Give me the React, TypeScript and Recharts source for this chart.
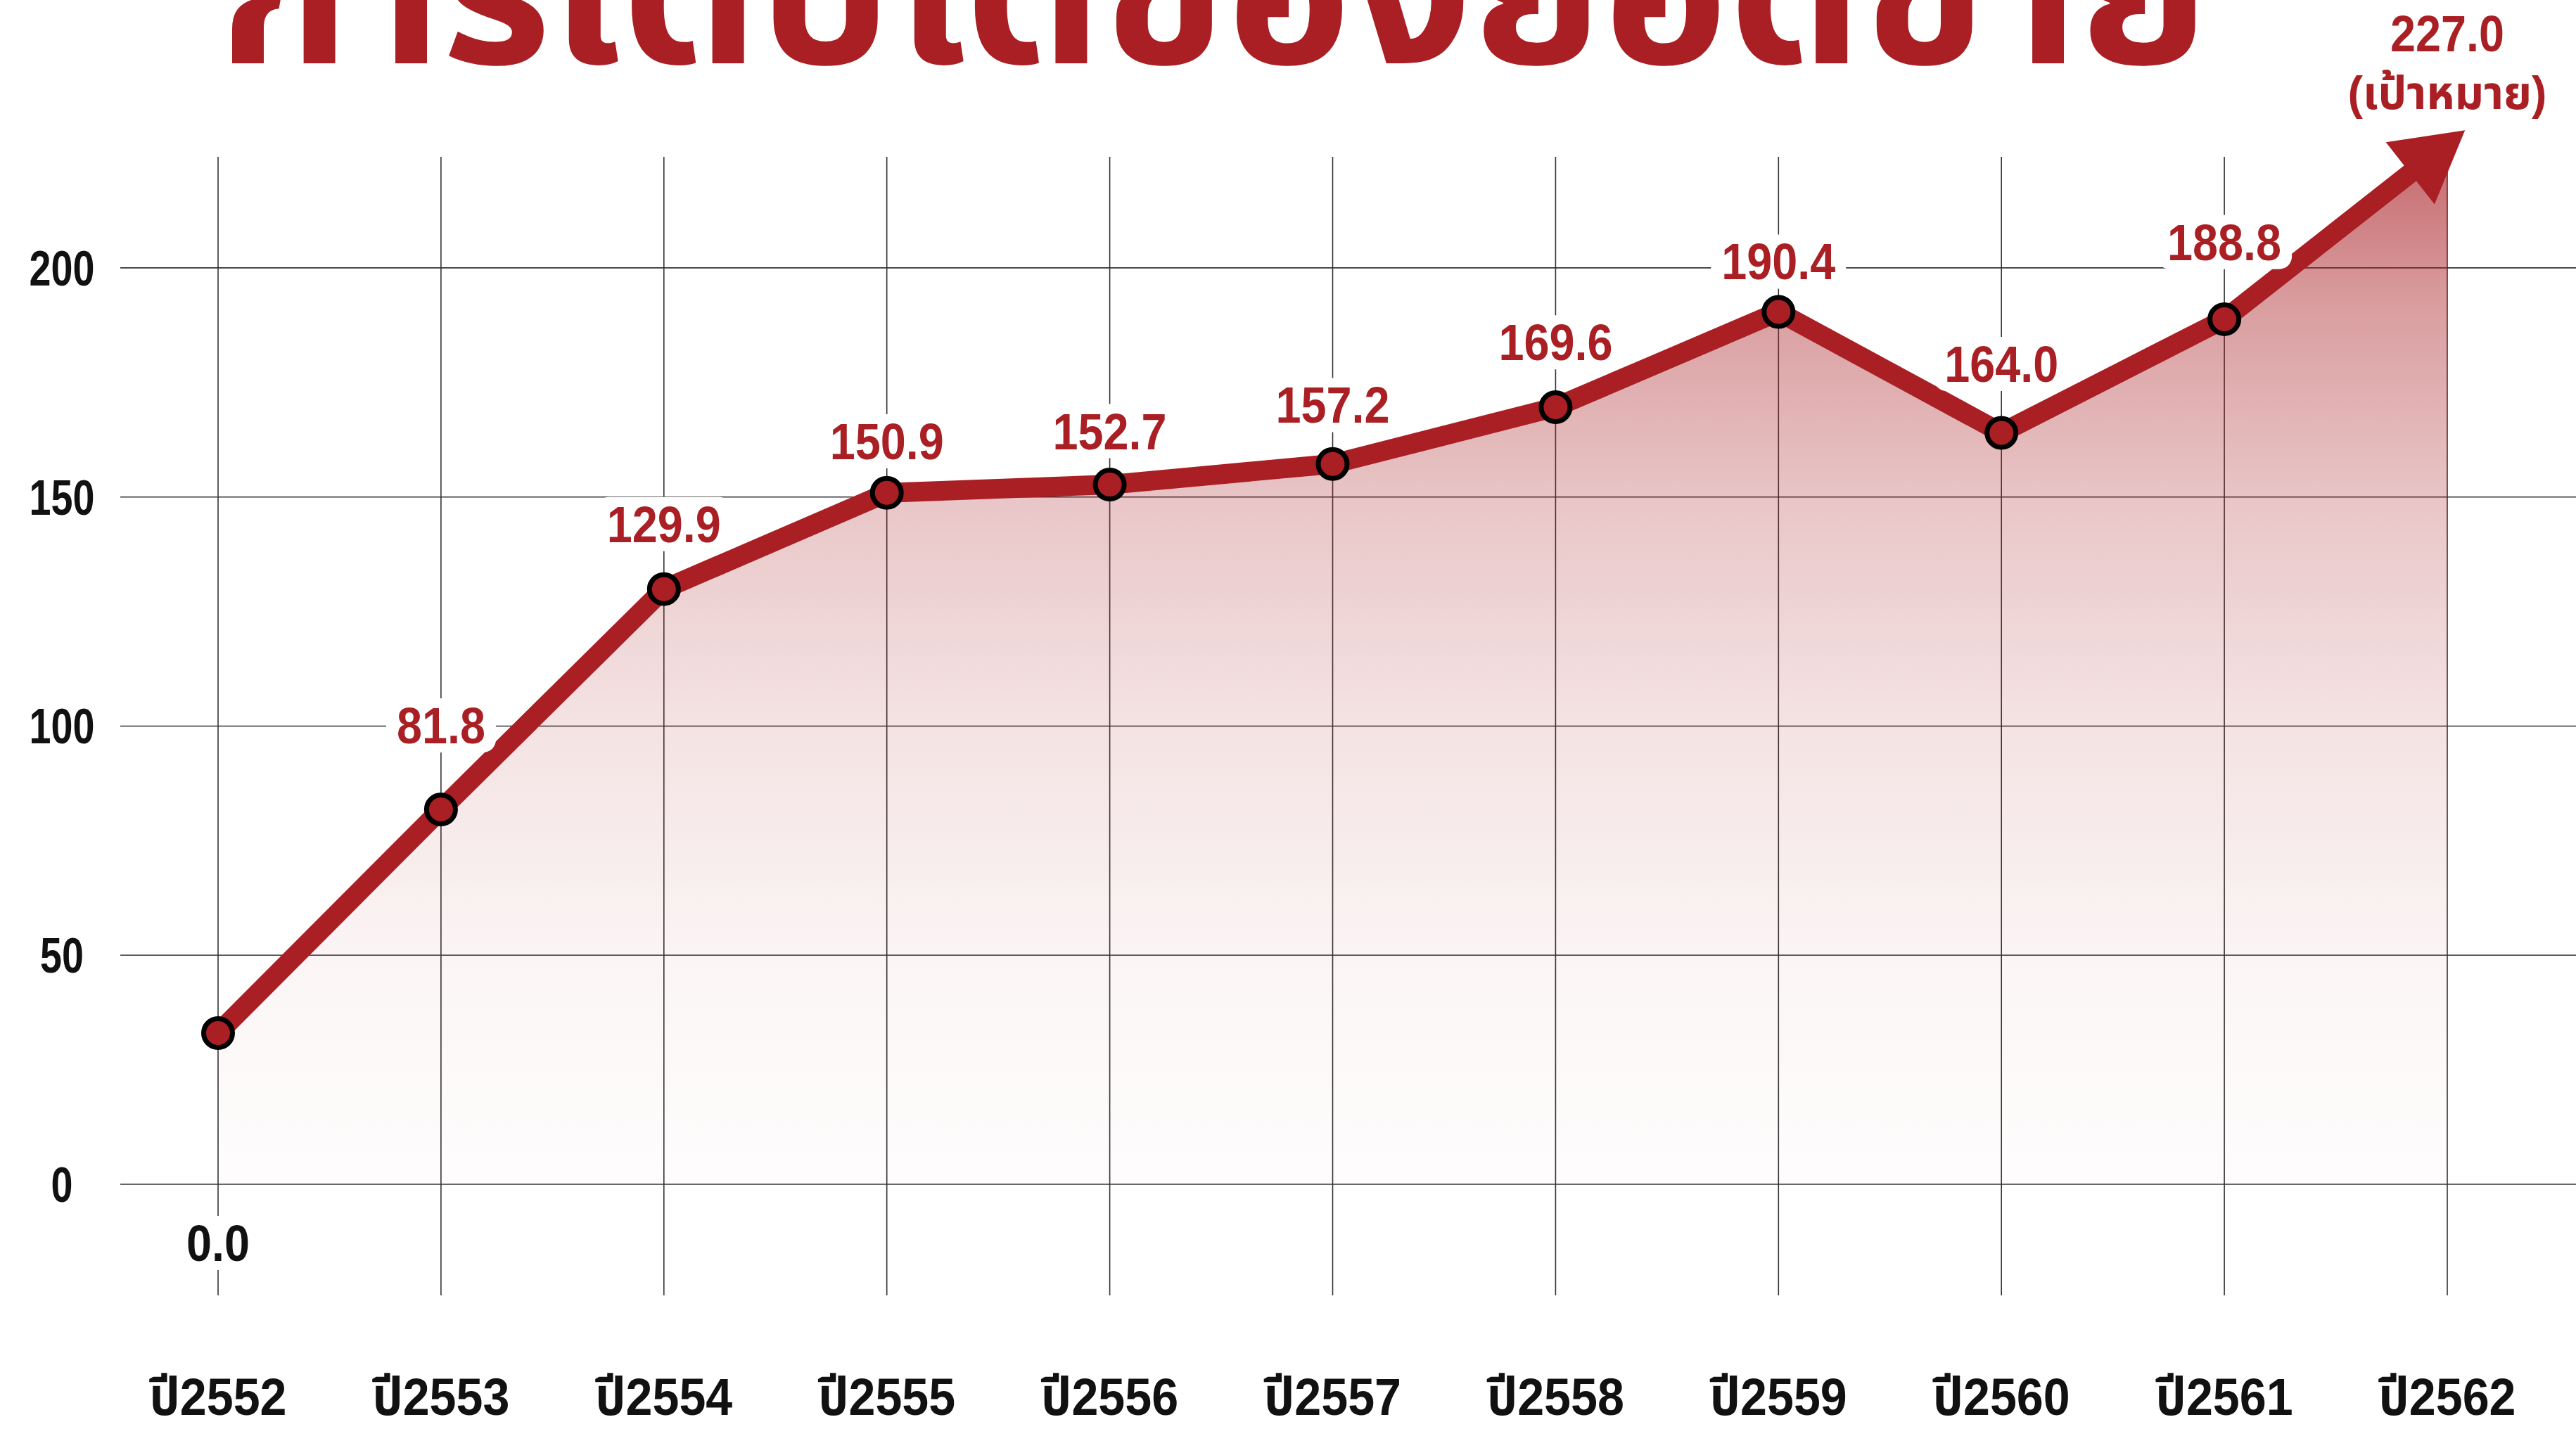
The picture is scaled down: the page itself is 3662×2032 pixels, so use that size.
import React from 'react';
import { ComposedChart, Line, Area, XAxis, YAxis, CartesianGrid, LabelList } from 'recharts';

const years = ['ปี2552', 'ปี2553', 'ปี2554', 'ปี2555', 'ปี2556', 'ปี2557', 'ปี2558', 'ปี2559', 'ปี2560', 'ปี2561', 'ปี2562'];
// first point sits above zero in the original even though it is labelled 0.0
const sales = [33, 81.8, 129.9, 150.9, 152.7, 157.2, 169.6, 190.4, 164.0, 188.8, 227.0];
const salesLabels = ['0.0', '81.8', '129.9', '150.9', '152.7', '157.2', '169.6', '190.4', '164.0', '188.8', '227.0'];
const yTicks = [0, 50, 100, 150, 200];
const title = 'การเติบโตของยอดขาย';
const targetNote = '(เป้าหมาย)';

const W = 3662;
const H = 2032;
const RED = '#a91f24';
const FONT = "'Liberation Sans', 'Noto Sans Thai', 'Noto Sans', sans-serif";
const GRID_TOP = 223;
const PLOT_TOP = 205;
const PLOT_BOTTOM = 1842;
const Y_AXIS_W = 171;

const data = years.map((year, i) => ({ year, sales: sales[i], label: salesLabels[i] }));

// rough width of the condensed digits so the white boxes fit
const textWidth = (s: string) => s.split('').reduce((w, c) => w + (c === '.' ? 18 : 36), 0);

// push a label further up when a neighbouring segment climbs past it
const labelLift = (i: number) => {
  const v = sales[i];
  const prev = i > 0 ? sales[i - 1] - v : 0;
  const next = i < sales.length - 1 ? sales[i + 1] - v : 0;
  return 72 + Math.max(0, prev, next);
};

const YTick = (props: any) => {
  const { x, y, payload } = props;
  const s = String(payload.value);
  return (
    <text x={x - 83} y={y + 25} textAnchor="middle" fontFamily={FONT} fontWeight={700} fontSize={70}
      fill="#111" textLength={s.length * 31} lengthAdjust="spacingAndGlyphs">
      {s}
    </text>
  );
};

const XTick = (props: any) => {
  const { x, y, payload } = props;
  return (
    <text x={x} y={y + 170} textAnchor="middle" fontFamily={FONT} fontWeight={700} fontSize={75}
      fill="#111" textLength={195} lengthAdjust="spacingAndGlyphs">
      {payload.value}
    </text>
  );
};

const ValueLabel = (props: any) => {
  const vb = props.viewBox ?? {};
  const x = vb.x ?? props.x;
  const y = vb.y ?? props.y;
  const s = String(props.value);
  const index = props.index ?? salesLabels.indexOf(s);
  const w = textWidth(s);
  if (index === sales.length - 1) {
    return (
      <g>
        <text x={x} y={y - 132} textAnchor="middle" fontFamily={FONT} fontWeight={700} fontSize={72}
          fill={RED} textLength={w} lengthAdjust="spacingAndGlyphs">{s}</text>
        <text x={x} y={y - 50} textAnchor="middle" fontFamily={FONT} fontWeight={700} fontSize={66}
          fill={RED} textLength={283} lengthAdjust="spacingAndGlyphs">{targetNote}</text>
      </g>
    );
  }
  const cy = index === 0 ? PLOT_BOTTOM - 75 : y - labelLift(index);
  return (
    <g>
      <rect x={x - w / 2 - 15} y={cy - 38} width={w + 30} height={77} rx={18} fill="#fff" />
      <text x={x} y={cy + 26} textAnchor="middle" fontFamily={FONT} fontWeight={700} fontSize={72}
        fill={index === 0 ? '#111' : RED} textLength={w} lengthAdjust="spacingAndGlyphs">{s}</text>
    </g>
  );
};

const SalesDot = (props: any) => {
  const { cx, cy, index, points } = props;
  if (cx == null || cy == null) return <g key={`dot-${index}`} />;
  if (index === sales.length - 1) {
    const prev = points && points[index - 1];
    const a = prev ? Math.atan2(cy - prev.y, cx - prev.x) : -0.67;
    const ux = Math.cos(a);
    const uy = Math.sin(a);
    const bx = cx - ux * 67;
    const by = cy - uy * 67;
    const pts = [
      [cx + ux * 32, cy + uy * 32],
      [bx - uy * 56, by + ux * 56],
      [bx + uy * 56, by - ux * 56],
    ].map((p) => p.join(',')).join(' ');
    return <polygon key={`dot-${index}`} points={pts} fill={RED} />;
  }
  return <circle key={`dot-${index}`} cx={cx} cy={cy} r={20.5} fill={RED} stroke="#000" strokeWidth={7} />;
};

export default function App() {
  return (
    <div style={{ position: 'absolute', left: 0, top: 0, width: W, height: H, background: '#fff', overflow: 'hidden' }}>
      <ComposedChart width={W} height={H} data={data} margin={{ top: PLOT_TOP, right: 0, bottom: 0, left: 0 }}>
        <defs>
          <linearGradient id="salesFill" x1="0" y1="0" x2="0" y2="1">
            <stop offset="0%" stopColor={RED} stopOpacity={0.68} />
            <stop offset="15%" stopColor={RED} stopOpacity={0.44} />
            <stop offset="35%" stopColor={RED} stopOpacity={0.25} />
            <stop offset="55%" stopColor={RED} stopOpacity={0.13} />
            <stop offset="80%" stopColor={RED} stopOpacity={0.04} />
            <stop offset="100%" stopColor={RED} stopOpacity={0.01} />
          </linearGradient>
        </defs>
        <CartesianGrid stroke="#333" strokeWidth={1.6} y={GRID_TOP} height={PLOT_BOTTOM - GRID_TOP} syncWithTicks />
        <XAxis dataKey="year" scale="point" padding={{ left: 139, right: 183 }} height={H - PLOT_BOTTOM}
          axisLine={false} tickLine={false} tickSize={0} tickMargin={0} tick={<XTick />} interval={0} />
        <YAxis type="number" domain={[-24.25, 'dataMax']} ticks={yTicks} width={Y_AXIS_W}
          axisLine={false} tickLine={false} tickSize={0} tickMargin={0} tick={<YTick />} />
        <Area type="linear" dataKey="sales" stroke="none" fill="url(#salesFill)" fillOpacity={1}
          isAnimationActive={false} />
        <Line type="linear" dataKey="sales" stroke={RED} strokeWidth={28} strokeLinejoin="round"
          dot={(p: any) => <SalesDot {...p} key={`dot-${p.index}`} />} activeDot={false} isAnimationActive={false}>
          <LabelList dataKey="label" content={ValueLabel} />
        </Line>
      </ComposedChart>
      <svg width={W} height={H} style={{ position: 'absolute', left: 0, top: 0, pointerEvents: 'none' }}>
        <text x={1726} y={90} textAnchor="middle" fontFamily={FONT} fontWeight={700} fontSize={290}
          fill={RED} textLength={2831} lengthAdjust="spacingAndGlyphs">
          {title}
        </text>
      </svg>
    </div>
  );
}
